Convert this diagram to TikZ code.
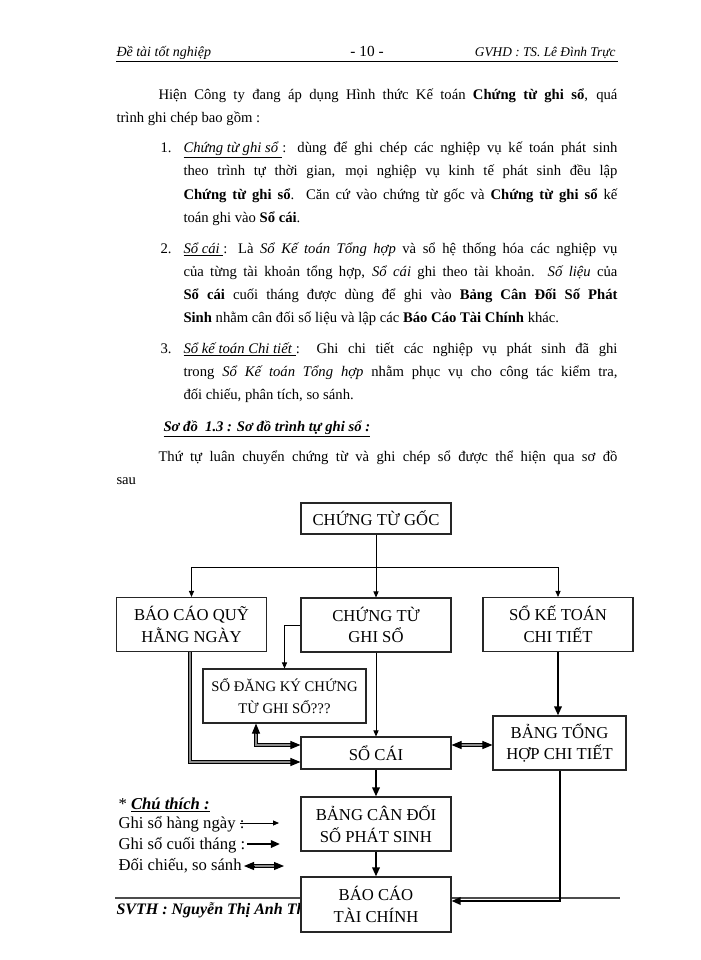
\documentclass[tikz,border=0pt]{standalone}
\usepackage{fontspec}
\setmainfont{Liberation Serif}
\usepackage{tikz}
\usetikzlibrary{arrows.meta}
\tikzset{every picture/.style={line width=0.75pt}}
\tikzset{
  box/.style={draw=black!85, line width=0.8pt, fill=white, align=center, inner sep=0pt,
    minimum width=112.5pt, font=\fontsize{12.5}{16.3}\selectfont},
  txt/.style={anchor=base west, inner sep=0pt, font=\fontsize{11}{13}\selectfont},
  lgd/.style={anchor=base west, inner sep=0pt, font=\fontsize{12.5}{14}\selectfont},
  thinarrow/.style={-{Triangle[length=4.5pt,width=3.8pt]}, line width=0.6pt},
  thickarrow/.style={-{Triangle[length=6.8pt,width=5.5pt]}, line width=1.6pt},
  dbl/.style={draw=black, double=black!45, double distance=0.8pt, line width=0.75pt},
  dbltip/.style={-{Triangle[length=7.5pt,width=6pt]}, line width=0.75pt},
}
\newcommand{\jline}[1]{\hbox to 325.5pt{#1}}
\newcommand{\wline}[1]{\hbox to 344.25pt{#1}}

\begin{document}
\begin{tikzpicture}[x=0.75pt,y=0.75pt,yscale=-1,xscale=1]
\fill[white] (0,0) rectangle (700,960);
\useasboundingbox (0,0) rectangle (700,960);

% Header
\node[anchor=base west, inner sep=0pt, font=\fontsize{10.5}{12}\selectfont\itshape] (hleft) at (116,56) {Đề tài tốt nghiệp};
\node[anchor=base, inner sep=0pt, font=\fontsize{11.5}{12}\selectfont] (hpage) at (367,56) {- 10 -};
\node[anchor=base east, inner sep=0pt, font=\fontsize{10}{12}\selectfont\itshape] (hright) at (616,56) {GVHD : TS. Lê Đình Trực};
\draw[line width=0.7pt] (116,61) -- (618,61);

% Text Node
\node[txt] (p1) at (158,99) {\wline{Hiện Công ty đang áp dụng Hình thức Kế toán \textbf{Chứng từ ghi sổ}, quá}};
\node[txt] (p2) at (116,122) {trình ghi chép bao gồm :};
% Text Node
\node[txt] (n1) at (160,152) {1.};
\node[txt] (a1) at (183,152) {\jline{\underline{\textit{Chứng từ ghi sổ }}: dùng để ghi chép các nghiệp vụ kế toán phát sinh}};
\node[txt] (a2) at (183,175) {\jline{theo trình tự thời gian, mọi nghiệp vụ kinh tế phát sinh đều lập}};
\node[txt] (a3) at (183,199) {\jline{\textbf{Chứng từ ghi sổ}. Căn cứ vào chứng từ gốc và \textbf{Chứng từ ghi sổ} kế}};
\node[txt] (a4) at (183,222) {toán ghi vào \textbf{Sổ cái}.};
% Text Node
\node[txt] (n2) at (160,253) {2.};
\node[txt] (b1) at (183,253) {\jline{\underline{\textit{Sổ cái }}: Là \textit{Sổ Kế toán Tổng hợp} và sổ hệ thống hóa các nghiệp vụ}};
\node[txt] (b2) at (183,276) {\jline{của từng tài khoản tổng hợp, \textit{Sổ cái} ghi theo tài khoản. \textit{Số liệu} của}};
\node[txt] (b3) at (183,299) {\jline{\textbf{Sổ cái} cuối tháng được dùng để ghi vào \textbf{Bảng Cân Đối Số Phát}}};
\node[txt] (b4) at (183,322) {\textbf{Sinh} nhằm cân đối số liệu và lập các \textbf{Báo Cáo Tài Chính} khác.};
% Text Node
\node[txt] (n3) at (160,353) {3.};
\node[txt] (c1) at (183,353) {\jline{\underline{\textit{Sổ kế toán Chi tiết }}: Ghi chi tiết các nghiệp vụ phát sinh đã ghi}};
\node[txt] (c2) at (183,376) {\jline{trong \textit{Sổ Kế toán Tổng hợp} nhằm phục vụ cho công tác kiểm tra,}};
\node[txt] (c3) at (183,399) {đối chiếu, phân tích, so sánh.};
% Text Node
\node[txt] (title) at (163,431) {\underline{\textbf{\textit{Sơ đồ\ \ 1.3 : Sơ đồ trình tự ghi sổ :}}}};
\node[txt] (p3) at (158,461) {\wline{Thứ tự luân chuyển chứng từ và ghi chép sổ được thể hiện qua sơ đồ}};
\node[txt] (p4) at (116,484) {sau};

% Footer
\draw[line width=0.8pt, black!70] (115,898) -- (620,898);
\node[anchor=base west, inner sep=0pt, font=\fontsize{12}{13}\selectfont\bfseries\itshape] (foot) at (116,914) {SVTH : Nguyễn Thị Anh Thư};

%Shape: Rectangle
\node[box, minimum height=23.25pt] (goc) at (376,518.5) {CHỨNG TỪ GỐC};
\node[box, minimum height=40.5pt] (bcq) at (191.5,624.5) {BÁO CÁO QUỸ\\HẰNG NGÀY};
\node[box, minimum height=40.5pt] (ctgs) at (376,625) {CHỨNG TỪ\\GHI SỔ};
\node[box, minimum height=40.5pt] (sktct) at (558,624.5) {SỔ KẾ TOÁN\\CHI TIẾT};
\node[box, minimum width=122.25pt, minimum height=40.5pt, font=\fontsize{11}{17}\selectfont] (sdk) at (284.5,696) {SỔ ĐĂNG KÝ CHỨNG\\TỪ GHI SỔ???};
\node[box, minimum height=24pt] (socai) at (376,753) {SỔ CÁI};
\node[box, minimum width=99.75pt, minimum height=40.5pt] (bthct) at (559.5,743) {BẢNG TỔNG\\HỢP CHI TIẾT};
\node[box, minimum height=40.5pt] (bcd) at (376,824) {BẢNG CÂN ĐỐI\\SỐ PHÁT SINH};
\node[box, minimum height=41.25pt] (bctc) at (376,904.5) {BÁO CÁO\\TÀI CHÍNH};

%Straight Lines
\coordinate (bus) at (376,567);
\draw (goc) -- (bus);
\draw (bcq.north |- bus) -- (sktct.north |- bus);
\draw[thinarrow] (bcq.north |- bus) -- (bcq.north);
\draw[thinarrow] (bus) -- (ctgs.north);
\draw[thinarrow] (sktct.north |- bus) -- (sktct.north);
\draw[thinarrow] (ctgs.west) -| (sdk.north);
\draw[thinarrow] (ctgs) -- (socai);

% double lines
\coordinate (q1) at (190,762);
\coordinate (q2) at (292,762);
\draw[dbl] (bcq.south -| q1) -- (q1) -- (q2);
\draw[dbltip] (q2) -- (socai.west |- q1);
\coordinate (d0) at (256,733);
\coordinate (d1) at (256,745);
\coordinate (d2) at (292,745);
\draw[dbl] (d0) -- (d1) -- (d2);
\draw[dbltip] (d0) -- (sdk.south -| d0);
\draw[dbltip] (d2) -- (socai.west |- d2);
\coordinate (e1) at (460,745);
\coordinate (e2) at (484,745);
\draw[dbl] (e1) -- (e2);
\draw[dbltip] (e1) -- (socai.east |- e1);
\draw[dbltip] (e2) -- (bthct.west |- e2);

% thick lines
\draw[thickarrow] (socai) -- (bcd);
\draw[thickarrow] (bcd) -- (bctc);
\draw[thickarrow] (sktct) -- (sktct |- bthct.north);
\coordinate (r1) at (560,901);
\draw[thickarrow] (bthct.south -| r1) -- (r1) -- (bctc.east |- r1);

% Legend
\node[lgd] (lg0) at (118,809) {* \underline{\textbf{\textit{Chú thích :}}}};
\node[lgd] (lg1) at (118,828) {Ghi sổ hàng ngày :};
\node[lgd] (lg2) at (118,849) {Ghi sổ cuối tháng :};
\node[lgd] (lg3) at (118,870) {Đối chiếu, so sánh};
\coordinate (l1a) at (240,823);
\coordinate (l1b) at (279,823);
\draw[thinarrow] (l1a) -- (l1b);
\coordinate (l2a) at (247,844);
\coordinate (l2b) at (280,844);
\draw[thickarrow] (l2a) -- (l2b);
\coordinate (l3a) at (254,866);
\coordinate (l3b) at (274,866);
\coordinate (l3l) at (244,866);
\coordinate (l3r) at (284,866);
\draw[dbl] (l3a) -- (l3b);
\draw[dbltip] (l3a) -- (l3l);
\draw[dbltip] (l3b) -- (l3r);

\end{tikzpicture}
\end{document}
